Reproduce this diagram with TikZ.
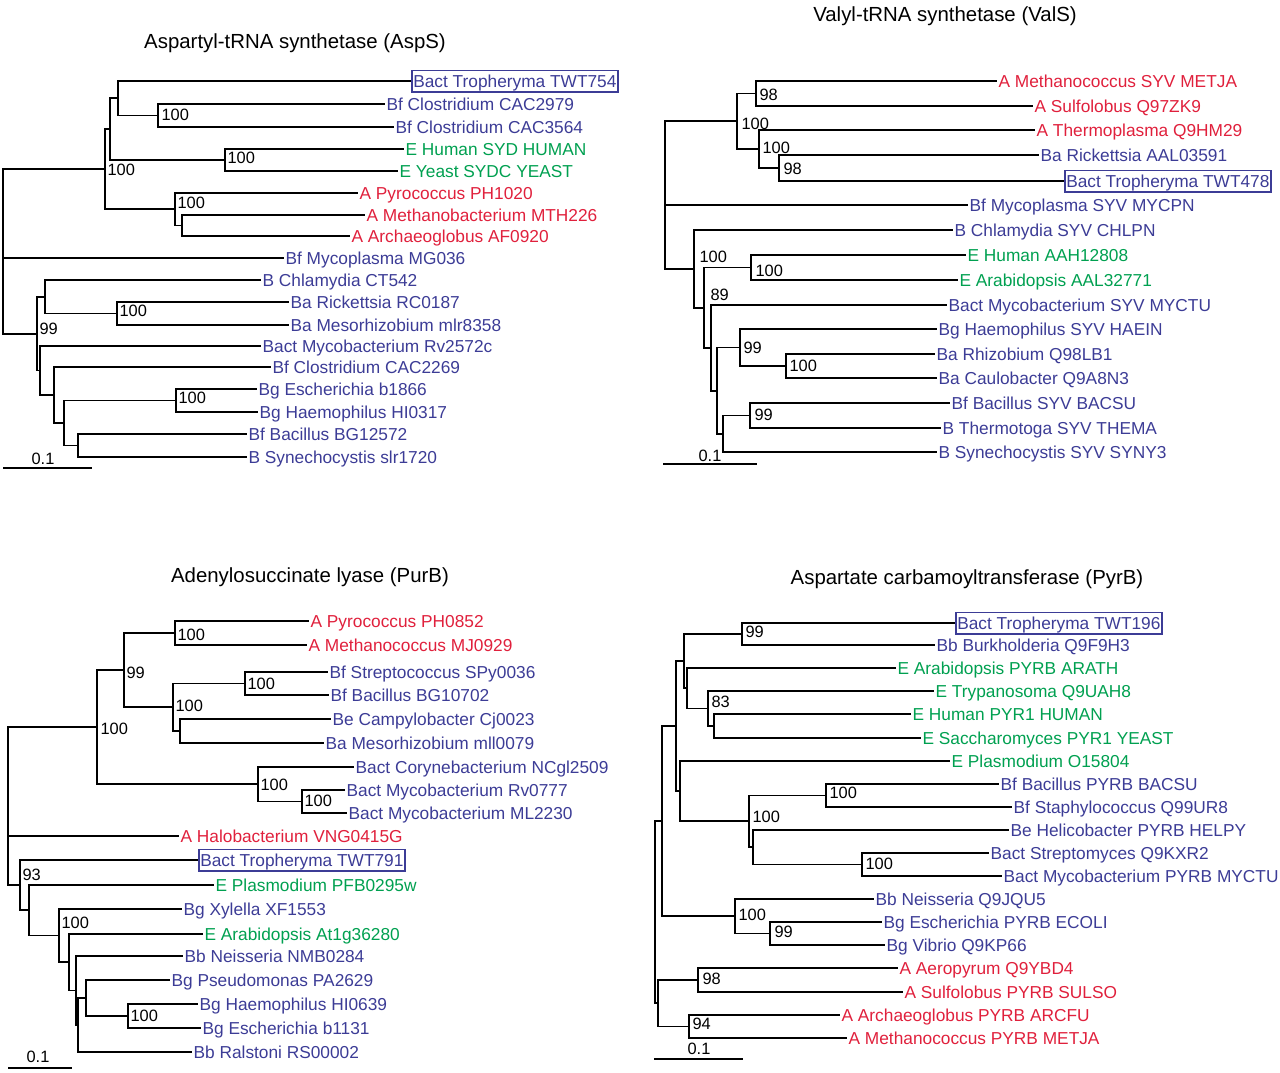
\documentclass[tikz,border=0pt]{standalone}
\usepackage{fontspec}
\setmainfont{Liberation Sans}
\usepackage{tikz}
\definecolor{ArchRed}{HTML}{E0203C}
\definecolor{BactBlue}{HTML}{3C3C96}
\definecolor{EukGreen}{HTML}{00A050}

\begin{document}
\begin{tikzpicture}[x=1pt,y=-1pt,line width=1.2pt,
  leaf/.style={anchor=west,inner xsep=1pt,inner ysep=0pt,text height=12.4pt,text depth=0pt,font=\fontsize{17.3pt}{20pt}\selectfont},
  tropbox/.style={leaf,draw=BactBlue,text=BactBlue,inner xsep=1.5pt,inner ysep=4.5pt,line width=1.6pt},
  boot/.style={anchor=west,inner sep=0pt,text height=11.5pt,text depth=0pt,font=\fontsize{16.4pt}{18pt}\selectfont},
  treetitle/.style={anchor=base,font=\fontsize{20.4pt}{24pt}\selectfont}]
    \useasboundingbox (0,0) rectangle (1280,1072);

    % AspS
    \node[treetitle] (atitle) at (295,48) {Aspartyl-tRNA synthetase (AspS)};
    \node[tropbox] (a1) at (411,81) {Bact Tropheryma TWT754};
    \foreach \n/\x/\y/\c/\t in {a2/385/104/BactBlue/Bf Clostridium CAC2979,
     a3/394/127/BactBlue/Bf Clostridium CAC3564, a4/404/149/EukGreen/E Human SYD HUMAN,
     a5/398/171/EukGreen/E Yeast SYDC YEAST, a6/358/193/ArchRed/A Pyrococcus PH1020,
     a7/365/215/ArchRed/A Methanobacterium MTH226, a8/350/236/ArchRed/A Archaeoglobus AF0920,
     a9/284/258/BactBlue/Bf Mycoplasma MG036, a10/261/280/BactBlue/B Chlamydia CT542,
     a11/289/302/BactBlue/Ba Rickettsia RC0187, a12/289/325/BactBlue/Ba Mesorhizobium mlr8358,
     a13/261/346/BactBlue/Bact Mycobacterium Rv2572c, a14/271/367/BactBlue/Bf Clostridium CAC2269,
     a15/257/389/BactBlue/Bg Escherichia b1866, a16/258/412/BactBlue/Bg Haemophilus HI0317,
     a17/247/434/BactBlue/Bf Bacillus BG12572, a18/247/457/BactBlue/B Synechocystis slr1720} {
     \node[leaf,text=\c] (\n) at (\x,\y) {\t};
    }
    \foreach \n/\x/\y in {aR/3/258, aR1/105/169, aC/110/129, aA/118/98, aB/158/115.5,
     aH/225/160, aP/175/209, aM/182/225.5, a99/37/334, aCh/45/297, aRi/117/313.5,
     aX/40/370.5, aY/54/395, aZ/64/423, aE/176/400.5, aBa/78/445.5} {
     \coordinate (\n) at (\x,\y);
    }
    \foreach \p/\q in {aR/aR1, aR/a9.west, aR/a99, aR1/aC, aR1/aP, aC/aA, aC/aH,
     aA/a1.west, aA/aB, aB/a2.west, aB/a3.west, aH/a4.west, aH/a5.west,
     aP/a6.west, aP/aM, aM/a7.west, aM/a8.west, a99/aCh, a99/aX,
     aCh/a10.west, aCh/aRi, aRi/a11.west, aRi/a12.west, aX/a13.west, aX/aY,
     aY/a14.west, aY/aZ, aZ/aE, aZ/aBa, aE/a15.west, aE/a16.west,
     aBa/a17.west, aBa/a18.west} {
     \draw (\p) |- (\q);
    }
    \foreach \x/\y/\b [count=\i] in {161/115/100, 227/158/100, 107/170/100, 177/203/100,
     39/329/99, 119/311/100, 178/398/100} {
     \node[boot] (ab\i) at (\x,\y) {\b};
    }
    \node[boot,anchor=center] (ascale) at (43,459) {0.1};
    \draw (3,468) -- (92,468);

    % ValS
    \node[treetitle] (vtitle) at (945,21) {Valyl-tRNA synthetase (ValS)};
    \node[tropbox] (v5) at (1064,181) {Bact Tropheryma TWT478};
    \foreach \n/\x/\y/\c/\t in {v1/997/81/ArchRed/A Methanococcus SYV METJA,
     v2/1033/106/ArchRed/A Sulfolobus Q97ZK9, v3/1035/130/ArchRed/A Thermoplasma Q9HM29,
     v4/1039/155/BactBlue/Ba Rickettsia AAL03591, v6/968/205/BactBlue/Bf Mycoplasma SYV MYCPN,
     v7/953/230/BactBlue/B Chlamydia SYV CHLPN, v8/966/255/EukGreen/E Human AAH12808,
     v9/958/280/EukGreen/E Arabidopsis AAL32771, v10/947/305/BactBlue/Bact Mycobacterium SYV MYCTU,
     v11/937/329/BactBlue/Bg Haemophilus SYV HAEIN, v12/935/354/BactBlue/Ba Rhizobium Q98LB1,
     v13/937/378/BactBlue/Ba Caulobacter Q9A8N3, v14/950/403/BactBlue/Bf Bacillus SYV BACSU,
     v15/941/428/BactBlue/B Thermotoga SYV THEMA, v16/937/452/BactBlue/B Synechocystis SYV SYNY3} {
     \node[leaf,text=\c] (\n) at (\x,\y) {\t};
    }
    \foreach \n/\x/\y in {vR/665/205, vT/737/121, vA/756/93.5, vB/759/149, vC/779/168,
     vL/694/269, vD/704/308, vH/751/267.5, vE/711/348, vF/717/391, vG/740/347.5,
     vK/786/366, vS/723/434, vM/750/415.5} {
     \coordinate (\n) at (\x,\y);
    }
    \foreach \p/\q in {vR/vT, vR/v6.west, vR/vL, vT/vA, vT/vB, vA/v1.west, vA/v2.west,
     vB/v3.west, vB/vC, vC/v4.west, vC/v5.west, vL/v7.west, vL/vD, vD/vH, vD/vE,
     vH/v8.west, vH/v9.west, vE/v10.west, vE/vF, vF/vG, vF/vS, vG/v11.west, vG/vK,
     vK/v12.west, vK/v13.west, vS/vM, vS/v16.west, vM/v14.west, vM/v15.west} {
     \draw (\p) |- (\q);
    }
    \foreach \x/\y/\b [count=\i] in {759/95/98, 741/124/100, 762/148/100, 783/169/98,
     699/257/100, 755/271/100, 710/295/89, 743/348/99, 789/366/100, 754/415/99} {
     \node[boot] (vb\i) at (\x,\y) {\b};
    }
    \node[boot,anchor=center] (vscale) at (710,456) {0.1};
    \draw (663,464) -- (757,464);

    % PurB
    \node[treetitle] (ptitle) at (310,582) {Adenylosuccinate lyase (PurB)};
    \node[tropbox] (p11) at (198,860) {Bact Tropheryma TWT791};
    \foreach \n/\x/\y/\c/\t in {p1/309/621/ArchRed/A Pyrococcus PH0852,
     p2/307/645/ArchRed/A Methanococcus MJ0929, p3/328/672/BactBlue/Bf Streptococcus SPy0036,
     p4/329/695/BactBlue/Bf Bacillus BG10702, p5/331/719/BactBlue/Be Campylobacter Cj0023,
     p6/324/743/BactBlue/Ba Mesorhizobium mll0079, p7/354/767/BactBlue/Bact Corynebacterium NCgl2509,
     p8/345/790/BactBlue/Bact Mycobacterium Rv0777, p9/347/813/BactBlue/Bact Mycobacterium ML2230,
     p10/179/836/ArchRed/A Halobacterium VNG0415G, p12/214/885/EukGreen/E Plasmodium PFB0295w,
     p13/182/909/BactBlue/Bg Xylella XF1553, p14/203/934/EukGreen/E Arabidopsis At1g36280,
     p15/183/956/BactBlue/Bb Neisseria NMB0284, p16/170/980/BactBlue/Bg Pseudomonas PA2629,
     p17/198/1004/BactBlue/Bg Haemophilus HI0639, p18/201/1028/BactBlue/Bg Escherichia b1131,
     p19/192/1052/BactBlue/Bb Ralstoni RS00002} {
     \node[leaf,text=\c] (\n) at (\x,\y) {\t};
    }
    \foreach \n/\x/\y in {pR/8/836, pD/97/727, p99/124/670, pA/175/633, pB/173/707,
     pC/245/683.5, pM/180/731, pE/258/784, pF/302/801.5, p93/20/885, pG/29/910,
     pH/59/935.5, pI/69/962, pJ/76/990.5, pK/78/1025, pL/86/998, pN/128/1016} {
     \coordinate (\n) at (\x,\y);
    }
    \foreach \p/\q in {pR/pD, pR/p10.west, pR/p93, pD/p99, pD/pE, p99/pA, p99/pB,
     pA/p1.west, pA/p2.west, pB/pC, pB/pM, pC/p3.west, pC/p4.west, pM/p5.west, pM/p6.west,
     pE/p7.west, pE/pF, pF/p8.west, pF/p9.west, p93/p11.west, p93/pG, pG/p12.west, pG/pH,
     pH/p13.west, pH/pI, pI/p14.west, pI/pJ, pJ/p15.west, pJ/pK, pK/pL, pK/p19.west,
     pL/p16.west, pL/pN, pN/p17.west, pN/p18.west} {
     \draw (\p) |- (\q);
    }
    \foreach \x/\y/\b [count=\i] in {177/635/100, 126/673/99, 247/684/100, 175/706/100,
     100/729/100, 260/785/100, 304/801/100, 22/875/93, 61/923/100, 130/1016/100} {
     \node[boot] (pb\i) at (\x,\y) {\b};
    }
    \node[boot,anchor=center] (pscale) at (38,1057) {0.1};
    \draw (8,1068) -- (72,1068);

    % PyrB
    \node[treetitle] (ctitle) at (967,584) {Aspartate carbamoyltransferase (PyrB)};
    \node[tropbox] (c1) at (955,623) {Bact Tropheryma TWT196};
    \foreach \n/\x/\y/\c/\t in {c2/935/645/BactBlue/Bb Burkholderia Q9F9H3,
     c3/896/668/EukGreen/E Arabidopsis PYRB ARATH, c4/934/691/EukGreen/E Trypanosoma Q9UAH8,
     c5/911/714/EukGreen/E Human PYR1 HUMAN, c6/921/738/EukGreen/E Saccharomyces PYR1 YEAST,
     c7/950/761/EukGreen/E Plasmodium O15804, c8/999/784/BactBlue/Bf Bacillus PYRB BACSU,
     c9/1012/807/BactBlue/Bf Staphylococcus Q99UR8, c10/1009/830/BactBlue/Be Helicobacter PYRB HELPY,
     c11/989/853/BactBlue/Bact Streptomyces Q9KXR2, c12/1002/876/BactBlue/Bact Mycobacterium PYRB MYCTU,
     c13/874/899/BactBlue/Bb Neisseria Q9JQU5, c14/882/922/BactBlue/Bg Escherichia PYRB ECOLI,
     c15/885/945/BactBlue/Bg Vibrio Q9KP66, c16/898/968/ArchRed/A Aeropyrum Q9YBD4,
     c17/903/992/ArchRed/A Sulfolobus PYRB SULSO, c18/840/1015/ArchRed/A Archaeoglobus PYRB ARCFU,
     c19/847/1038/ArchRed/A Methanococcus PYRB METJA} {
     \node[leaf,text=\c] (\n) at (\x,\y) {\t};
    }
    \foreach \n/\x/\y in {cR/655/912, cD/662/821, cC/676/726, cA/684/661, c99/742/634,
     cB/687/688, c83/708/708.5, cHS/714/726, cF/680/791, cI/749/821, cBS/826/795.5,
     cHe/753/847, cJ/862/864.5, cK/735/916, cV/770/933.5, cAr/658/1003, c98/698/980,
     c94/689/1026.5} {
     \coordinate (\n) at (\x,\y);
    }
    \foreach \p/\q in {cR/cD, cR/cAr, cD/cC, cD/cK, cC/cA, cC/cF, cA/c99, cA/cB,
     c99/c1.west, c99/c2.west, cB/c3.west, cB/c83, c83/c4.west, c83/cHS,
     cHS/c5.west, cHS/c6.west, cF/c7.west, cF/cI, cI/cBS, cI/cHe, cBS/c8.west, cBS/c9.west,
     cHe/c10.west, cHe/cJ, cJ/c11.west, cJ/c12.west, cK/c13.west, cK/cV,
     cV/c14.west, cV/c15.west, cAr/c98, cAr/c94, c98/c16.west, c98/c17.west,
     c94/c18.west, c94/c19.west} {
     \draw (\p) |- (\q);
    }
    \foreach \x/\y/\b [count=\i] in {745/632/99, 711/702/83, 829/793/100, 752/817/100,
     865/864/100, 738/915/100, 774/932/99, 702/979/98, 692/1024/94} {
     \node[boot] (cb\i) at (\x,\y) {\b};
    }
    \node[boot,anchor=center] (cscale) at (699,1049) {0.1};
    \draw (654,1059) -- (743,1059);
\end{tikzpicture}
\end{document}
